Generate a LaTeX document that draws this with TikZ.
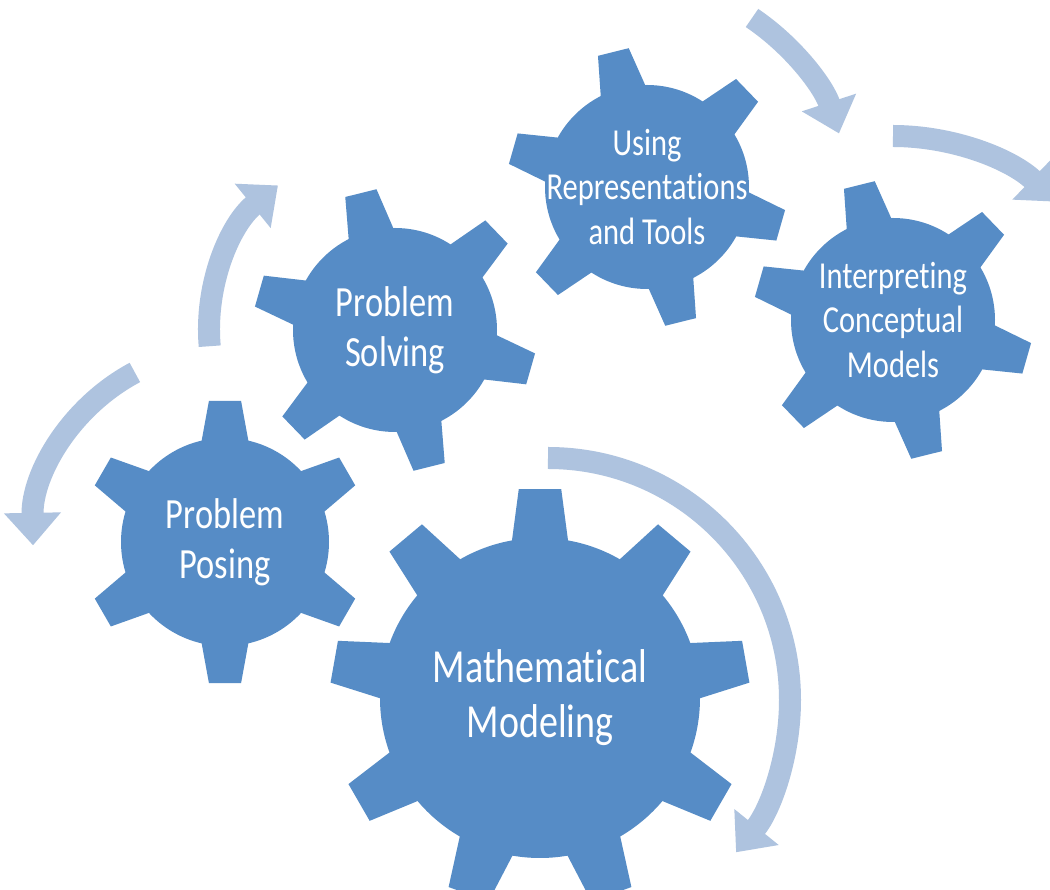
\documentclass[tikz,border=0pt]{standalone}
\usepackage{fontspec}
\setmainfont{Carlito}[FakeStretch=0.8, Ligatures=NoCommon]
\usetikzlibrary{arrows.meta,calc,backgrounds}
\definecolor{gearblue}{RGB}{86,140,198}
\definecolor{flowblue}{RGB}{174,195,223}
\begin{document}
\begin{tikzpicture}[x=0.2mm, y=0.2mm,
gear/.style={fill=gearblue},
cogtext/.style={
% The text inside a gear:
text=white,
align=center,
inner sep=0pt
},
bigtext/.style={cogtext, font=\fontsize{24.5}{28.5}\selectfont},
smalltext/.style={cogtext, font=\fontsize{21.7}{25.5}\selectfont},
flow/.style={draw=flowblue, line width=4.4mm, -{Triangle[width=11mm,length=6.5mm]}}
]
\useasboundingbox (0,0) rectangle (1050,890);
% Gear labels:
\node[bigtext] (pp) at (225,348) {Problem\\Posing};
\node[bigtext] (ps) at (395,560) {Problem\\Solving};
\node[smalltext] (ur) at (647,703) {Using\\Representations\\and Tools};
\node[smalltext] (ic) at (893,570) {Interpreting\\Conceptual\\Models};
\node[cogtext, font=\fontsize{27}{31.3}\selectfont] (mm) at (540,192) {Mathematical\\Modeling};
% Gears behind the labels:
\begin{scope}[on background layer]
\fill[white] (0,0) rectangle (1050,890);
\foreach \nm/\n/\off/\r/\R/\tw/\bw in {pp/6/90/104/142/6.5/14.5, ps/6/104/102/142/6.5/14.5,
  ur/6/104/102/140/6.5/14.5, ic/6/104/102/140/6.5/14.5, mm/9/90/160/210/5.8/10.8} {
  \fill[gear] (\nm.center) circle (\r);
  \foreach \k in {1,...,\n} {
    \pgfmathsetmacro\a{\off+360/\n*\k}
    \fill[gear] ($(\nm.center)+({\a-\bw}:{\r-6})$) -- ($(\nm.center)+({\a-\tw}:\R)$)
      -- ($(\nm.center)+({\a+\tw}:\R)$) -- ($(\nm.center)+({\a+\bw}:{\r-6})$) -- cycle;
  }
}
\end{scope}
% Turning arrows:
\draw[flow] ($(pp)+(118:192)$) arc[start angle=118, end angle=181, radius=192];
\draw[flow] ($(ps)+(185:186)$) arc[start angle=185, end angle=129, radius=186];
\draw[flow] ($(ur)+(105,169)$) arc[start angle=56, end angle=18, radius=222];
\draw[flow] ($(ic)+(0,184)$) arc[start angle=90, end angle=46, radius=234];
\draw[flow] ($(mm)+(8,240)$) arc[start angle=90, end angle=-39, radius=242];
\end{tikzpicture}
\end{document}
